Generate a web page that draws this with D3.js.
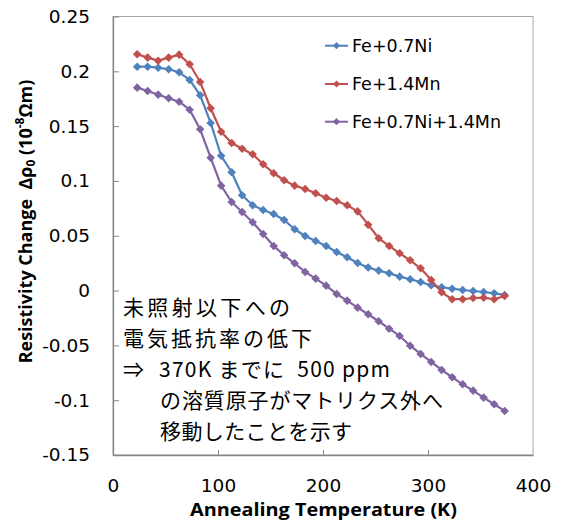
<!DOCTYPE html>
<html>
<head>
<meta charset="utf-8">
<script src="https://cdn.jsdelivr.net/npm/d3@7"></script>
<style>
  html, body { margin: 0; padding: 0; background: #fff; }
  svg { display: block; }
  text { white-space: pre; }
</style>
</head>
<body>
<svg id="chart" width="567" height="528"></svg>
<script>
// ---- data ----
const temps = [23, 33, 43, 53, 63, 73, 83, 93, 103, 113, 123, 133, 143, 153, 163, 173, 183, 193,
               203, 213, 223, 233, 243, 253, 263, 273, 283, 293, 303, 313, 323, 333, 343, 353, 363, 373];
const seriesNames = ["Fe+0.7Ni", "Fe+1.4Mn", "Fe+0.7Ni+1.4Mn"];
const feNi = [0.2042, 0.2042, 0.2033, 0.2019, 0.1991, 0.1921, 0.1782, 0.1529, 0.1230, 0.1079,
              0.0869, 0.0778, 0.0735, 0.0699, 0.0644, 0.0559, 0.0498, 0.0452, 0.0407, 0.0352,
              0.0304, 0.0252, 0.0211, 0.0182, 0.0158, 0.0127, 0.0103, 0.0078, 0.0048, 0.0030,
              0.0017, 0.0005, -0.0004, -0.0013, -0.0025, -0.0040];
const feMn = [0.2156, 0.2125, 0.2097, 0.2125, 0.2152, 0.2064, 0.1903, 0.1663, 0.1449, 0.1346,
              0.1294, 0.1244, 0.1152, 0.1070, 0.1006, 0.0957, 0.0927, 0.0888, 0.0847, 0.0817,
              0.0778, 0.0722, 0.0601, 0.0477, 0.0407, 0.0340, 0.0276, 0.0203, 0.0097, -0.0016,
              -0.0079, -0.0079, -0.0068, -0.0065, -0.0079, -0.0049];
const feNiMn = [0.1851, 0.1821, 0.1787, 0.1754, 0.1723, 0.1650, 0.1471, 0.1212, 0.0957, 0.0808,
                0.0717, 0.0623, 0.0516, 0.0407, 0.0322, 0.0249, 0.0170, 0.0109, 0.0045, -0.0031,
                -0.0092, -0.0156, -0.0216, -0.0280, -0.0348, -0.0414, -0.0503, -0.0578, -0.0651, -0.0724,
                -0.0791, -0.0855, -0.0913, -0.0977, -0.1037, -0.1098];
const xTicks = [0, 100, 200, 300, 400];
const yTicks = [0.25, 0.2, 0.15, 0.1, 0.05, 0, -0.05, -0.1, -0.15];
const xTitle = "Annealing Temperature (K)";
const noteLines = ["未照射以下への", "電気抵抗率の低下", "370K までに  500 ppm", "の溶質原子がマトリクス外へ", "移動したことを示す"];

// ---- layout ----
const colors = ["#4F81BD", "#C0504D", "#8064A2"];
const seriesValues = [feNi, feMn, feNiMn];
const L = 113, R = 533, T = 16.5, B = 455;
const svg = d3.select("#chart");
const x = d3.scaleLinear().domain([0, 400]).range([L, R]);
const y = d3.scaleLinear().domain([-0.15, 0.25]).range([B, T]);
const tickFont = "'DejaVu Sans', sans-serif";

// plot border (top/right)
svg.append("rect").attr("x", L).attr("y", T).attr("width", R - L).attr("height", B - T)
  .attr("fill", "none").attr("stroke", "#a6a6a6").attr("stroke-width", 1);

// axes
const yAxis = d3.axisLeft(y).tickValues(yTicks).tickFormat(d => String(d))
  .tickSizeInner(-6).tickSizeOuter(0).tickPadding(23);
const gy = svg.append("g").attr("transform", `translate(${L},0)`).call(yAxis);
const xAxis = d3.axisBottom(x).tickValues(xTicks).tickFormat(d => String(d))
  .tickSizeInner(-5).tickSizeOuter(0).tickPadding(24);
const gx = svg.append("g").attr("transform", `translate(0,${B})`).call(xAxis);
[gx, gy].forEach(g => {
  g.select(".domain").attr("stroke", "#868686").attr("stroke-width", 1.3);
  g.selectAll(".tick line").attr("stroke", "#868686").attr("stroke-width", 1);
  g.selectAll(".tick text").attr("fill", "#000").style("font-family", tickFont).style("font-size", "18.5px");
});
gx.selectAll(".tick line").filter(d => d === 0 || d === 400).remove();

// series
const line = d3.line().x((d, i) => x(temps[i])).y(d => y(d));
const diamond = r => `M0,${-r}L${r},0L0,${r}L${-r},0Z`;
seriesValues.forEach((vals, s) => {
  svg.append("path").datum(vals).attr("d", line)
    .attr("fill", "none").attr("stroke", colors[s]).attr("stroke-width", 2.2).attr("stroke-linejoin", "round");
  svg.append("g").selectAll("path").data(vals).join("path")
    .attr("transform", (d, i) => `translate(${x(temps[i])},${y(d)})`)
    .attr("d", diamond(4.3)).attr("fill", colors[s]);
});

// legend
const legY = [45.7, 84, 121.7];
seriesNames.forEach((name, s) => {
  const g = svg.append("g").attr("transform", `translate(0,${legY[s]})`);
  g.append("line").attr("x1", 325).attr("x2", 348).attr("y1", 0).attr("y2", 0)
    .attr("stroke", colors[s]).attr("stroke-width", 2);
  g.append("path").attr("transform", "translate(336.5,0)").attr("d", diamond(3.6)).attr("fill", colors[s]);
  g.append("text").attr("x", 352).attr("y", 0).attr("dy", "0.36em")
    .style("font-family", tickFont).style("font-size", "17.5px").attr("fill", "#000").text(name);
});

// axis titles
svg.append("text").attr("x", (190 + 457) / 2).attr("y", 516).attr("text-anchor", "middle")
  .style("font-family", "'Open Sans', sans-serif").style("font-weight", "bold").style("font-size", "18px")
  .attr("textLength", 267).attr("lengthAdjust", "spacingAndGlyphs")
  .attr("fill", "#000").text(xTitle);

const yt = svg.append("text").attr("transform", "translate(32,221.5) rotate(-90)").attr("text-anchor", "middle")
  .style("font-family", "'Open Sans', sans-serif").style("font-weight", "bold").style("font-size", "18px")
  .attr("fill", "#000");
yt.append("tspan").text("Resistivity Change  Δρ");
yt.append("tspan").attr("baseline-shift", "-25%").style("font-size", "12px").text("0");
yt.append("tspan").text(" (10");
yt.append("tspan").attr("baseline-shift", "super").style("font-size", "12px").text("-8");
yt.append("tspan").text("Ωm)");

// annotation
const noteFont = "'Noto Sans CJK JP', sans-serif";
const noteY = [307.5, 338, 369, 400.5, 431.5];
const noteX = [123, 123, 159, 160, 160];
const noteLen = [167, 189, 231, 283, 192];
noteLines.forEach((t, i) => {
  svg.append("text").attr("x", noteX[i]).attr("y", noteY[i]).attr("dy", "0.36em")
    .style("font-family", noteFont).style("font-size", "21px").attr("fill", "#000")
    .attr("textLength", noteLen[i]).attr("lengthAdjust", "spacing").text(t);
});
svg.append("text").attr("x", 123).attr("y", noteY[2]).attr("dy", "0.36em")
  .style("font-family", noteFont).style("font-size", "21px").attr("fill", "#000").text("⇒");
</script>
</body>
</html>
